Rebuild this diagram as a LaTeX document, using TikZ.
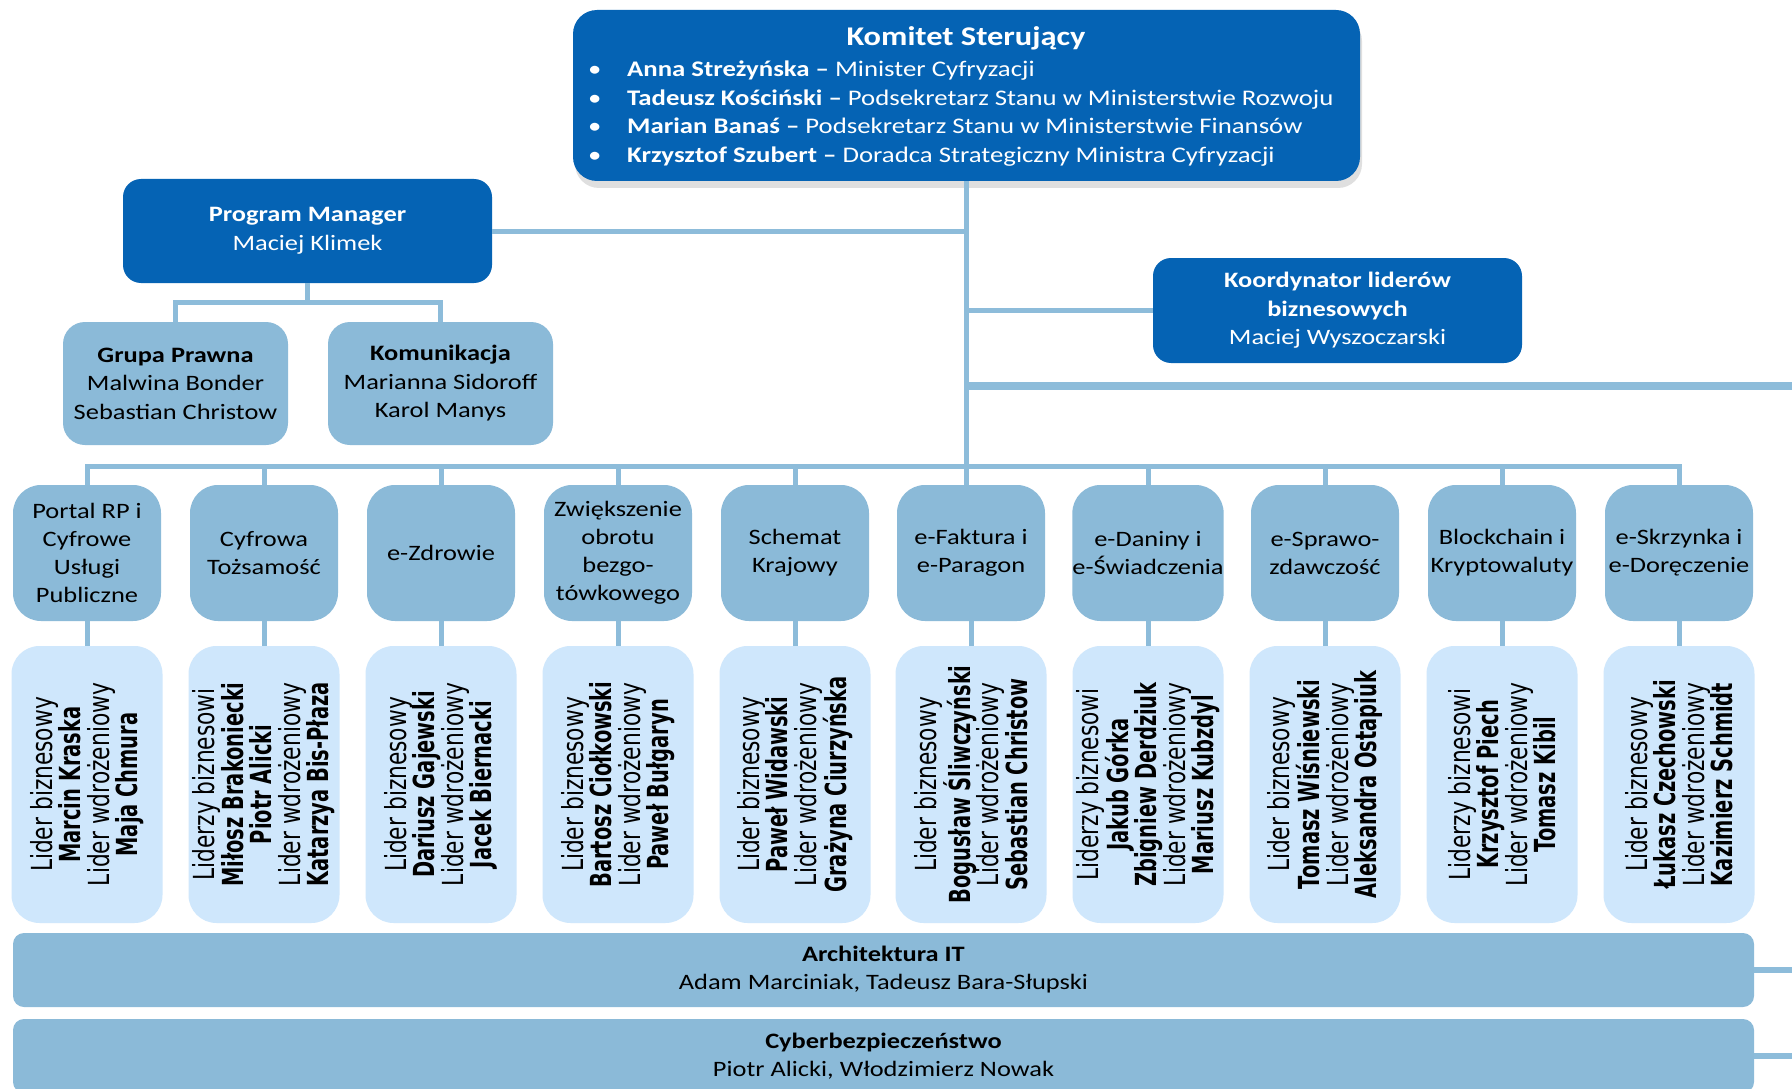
\documentclass[tikz,border=0pt]{standalone}
\usepackage{fontspec}
\setmainfont[FakeStretch=1.2]{Carlito}
\newfontfamily\vreg[FakeStretch=0.75]{DejaVu Sans}
\newfontfamily\vbold[FakeStretch=0.67]{DejaVu Sans}
\usetikzlibrary{shadows}
\definecolor{dblue}{RGB}{5,99,180}
\definecolor{mblue}{RGB}{139,186,216}
\definecolor{lblue}{RGB}{207,231,252}
\definecolor{lnblue}{RGB}{141,188,218}
\newcommand\fsmain{\fontsize{22}{28.5}\selectfont}
\newcommand\fskom{\fontsize{22.3}{28.5}\selectfont}
\newcommand\fscat{\fontsize{22}{28}\selectfont}
\newcommand\fsvert{\vreg\fontsize{29}{28.5}\selectfont}
\newcommand\PBold[1]{{\vbold\bfseries #1}}
\tikzset{
  conn/.style={draw=lnblue, line width=5pt},
  dkbox/.style={fill=dblue, text=white, rounded corners=18pt, align=center, inner sep=0pt, font=\fsmain},
  lgbox/.style={fill=mblue, rounded corners=22pt, align=center, inner sep=0pt, font=\fsmain},
  catbox/.style={fill=mblue, rounded corners=28pt, minimum width=148pt, minimum height=136pt, align=center, inner sep=0pt, font=\fscat},
  perbox/.style={fill=lblue, rounded corners=28pt, minimum width=151pt, minimum height=277pt, inner sep=0pt},
  vtext/.style={rotate=90, align=center, font=\fsvert, inner sep=0pt},
  barbox/.style={fill=mblue, rounded corners=11pt, minimum width=1741pt, minimum height=74pt, align=center, inner sep=0pt, font=\fscat},
  ktext/.style={text=white, inner sep=0pt, font=\fskom}
}
\begin{document}
\begin{tikzpicture}[x=1pt,y=-1pt]
\fill[white] (0,0) rectangle (1792,1089);
\useasboundingbox (0,0) rectangle (1792,1089);

% Komitet Sterujacy
\node[fill=dblue, rounded corners=24pt, minimum width=787pt, minimum height=171pt, inner sep=0pt,
      drop shadow={opacity=0.25, shadow xshift=2pt, shadow yshift=-7pt}] (kom) at (966.5,95.5) {};
\node[anchor=base, text=white, inner sep=0pt, font=\fontsize{27}{30}\selectfont\bfseries] (komT) at (966,46) {Komitet Sterujący};
\node[ktext, anchor=base west] (kb1) at (588,77) {\makebox[39pt][l]{•}\textbf{Anna Streżyńska –} Minister Cyfryzacji};
\node[ktext, anchor=base west] (kb2) at (588,105.5) {\makebox[39pt][l]{•}\textbf{Tadeusz Kościński –} Podsekretarz Stanu w Ministerstwie Rozwoju};
\node[ktext, anchor=base west] (kb3) at (588,134) {\makebox[39pt][l]{•}\textbf{Marian Banaś –} Podsekretarz Stanu w Ministerstwie Finansów};
\node[ktext, anchor=base west] (kb4) at (588,162.5) {\makebox[39pt][l]{•}\textbf{Krzysztof Szubert –} Doradca Strategiczny Ministra Cyfryzacji};

% Program Manager
\node[dkbox, minimum width=369pt, minimum height=104pt] (pm) at (307.5,231) {\textbf{Program Manager}\\Maciej Klimek};
\node[lgbox, minimum width=225pt, minimum height=123pt] (grp) at (175.5,383.5) {\textbf{Grupa Prawna}\\Malwina Bonder\\Sebastian Christow};
\node[lgbox, minimum width=225pt, minimum height=123pt] (kmk) at (440.5,383.5) {\textbf{Komunikacja}\\Marianna Sidoroff\\Karol Manys};

% Koordynator
\node[dkbox, minimum width=369pt, minimum height=105pt] (koord) at (1337.5,310.5) {\textbf{Koordynator liderów}\\\textbf{biznesowych}\\Maciej Wyszoczarski};

% Categories
\node[catbox] (c1) at (87,553) {Portal RP i\\Cyfrowe\\Usługi\\Publiczne};
\node[catbox] (c2) at (264,553) {Cyfrowa\\Tożsamość};
\node[catbox] (c3) at (441,553) {e-Zdrowie};
\node[catbox] (c4) at (618,553) {Zwiększenie\\obrotu\\bezgo-\\tówkowego};
\node[catbox] (c5) at (795,553) {Schemat\\Krajowy};
\node[catbox] (c6) at (971,553) {e-Faktura i\\e-Paragon};
\node[catbox] (c7) at (1148,553) {e-Daniny i\\e-Świadczenia};
\node[catbox] (c8) at (1325,553) {e-Sprawo-\\zdawczość};
\node[catbox] (c9) at (1502,553) {Blockchain i\\Kryptowaluty};
\node[catbox] (c10) at (1679,553) {e-Skrzynka i\\e-Doręczenie};

% Person boxes
\node[perbox] (p1) at (87,784.5) {};
\node[perbox] (p2) at (264,784.5) {};
\node[perbox] (p3) at (441,784.5) {};
\node[perbox] (p4) at (618,784.5) {};
\node[perbox] (p5) at (795,784.5) {};
\node[perbox] (p6) at (971,784.5) {};
\node[perbox] (p7) at (1148,784.5) {};
\node[perbox] (p8) at (1325,784.5) {};
\node[perbox] (p9) at (1502,784.5) {};
\node[perbox] (p10) at (1679,784.5) {};
\node[vtext] (t1) at (p1) {Lider biznesowy\\\PBold{Marcin Kraska}\\Lider wdrożeniowy\\\PBold{Maja Chmura}};
\node[vtext] (t2) at (p2) {Liderzy biznesowi\\\PBold{Miłosz Brakoniecki}\\\PBold{Piotr Alicki}\\Lider wdrożeniowy\\\PBold{Katarzya Bis-Płaza}};
\node[vtext] (t3) at (p3) {Lider biznesowy\\\PBold{Dariusz Gajewski}\\Lider wdrożeniowy\\\PBold{Jacek Biernacki}};
\node[vtext] (t4) at (p4) {Lider biznesowy\\\PBold{Bartosz Ciołkowski}\\Lider wdrożeniowy\\\PBold{Paweł Bułgaryn}};
\node[vtext] (t5) at (p5) {Lider biznesowy\\\PBold{Paweł Widawski}\\Lider wdrożeniowy\\\PBold{Grażyna Ciurzyńska}};
\node[vtext] (t6) at (p6) {Lider biznesowy\\\PBold{Bogusław Śliwczyński}\\Lider wdrożeniowy\\\PBold{Sebastian Christow}};
\node[vtext] (t7) at (p7) {Liderzy biznesowi\\\PBold{Jakub Górka}\\\PBold{Zbigniew Derdziuk}\\Lider wdrożeniowy\\\PBold{Mariusz Kubzdyl}};
\node[vtext] (t8) at (p8) {Lider biznesowy\\\PBold{Tomasz Wiśniewski}\\Lider wdrożeniowy\\\PBold{Aleksandra Ostapiuk}};
\node[vtext] (t9) at (p9) {Liderzy biznesowi\\\PBold{Krzysztof Piech}\\Lider wdrożeniowy\\\PBold{Tomasz Kibil}};
\node[vtext] (t10) at (p10) {Lider biznesowy\\\PBold{Łukasz Czechowski}\\Lider wdrożeniowy\\\PBold{Kazimierz Schmidt}};

% Bars
\node[barbox] (arch) at (883.5,970) {\textbf{Architektura IT}\\Adam Marciniak, Tadeusz Bara-Słupski};
\node[barbox] (cyb) at (883.5,1056) {\textbf{Cyberbezpieczeństwo}\\Piotr Alicki, Włodzimierz Nowak};

% Connectors
\coordinate (pmj) at (307.5,302.5);
\coordinate (bus) at (966,466);
\coordinate (edgeA) at (1792,386);
\coordinate (edgeB) at (1792,970);
\coordinate (edgeC) at (1792,1056);

\draw[conn] (kom.south) -- (kom.south |- c6.north);
\draw[conn] (pm.east) -- (pm.east -| kom.south);
\draw[conn] (koord.west) -- (koord.west -| kom.south);
\draw[conn, line width=8pt] (kom.south |- edgeA) -- (edgeA);
\draw[conn] (pm.south) -- (pmj);
\draw[conn] (grp.north) |- (pmj) -| (kmk.north);
\draw[conn] (c1.north) |- (bus) -| (c10.north);
\foreach \i in {2,3,4,5,7,8,9} { \draw[conn] (c\i.north) -- (c\i.north |- bus); }
\foreach \i in {1,...,10} { \draw[conn] (c\i.south) -- (p\i.north); }
\draw[conn, line width=6pt] (arch.east) -- (edgeB);
\draw[conn, line width=6pt] (cyb.east) -- (edgeC);
\end{tikzpicture}
\end{document}
